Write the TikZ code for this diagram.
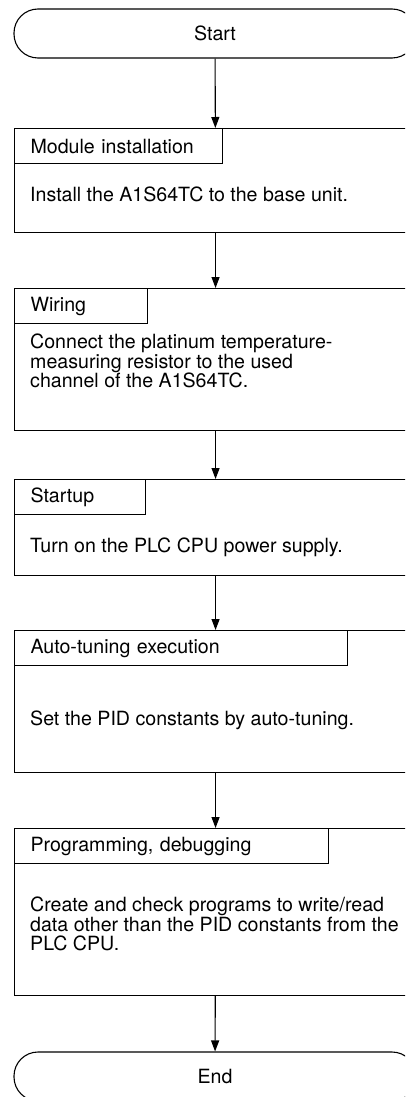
\documentclass[tikz,border=0pt]{standalone}
\usepackage{fontspec}
\setmainfont{TeX Gyre Heros}
\usetikzlibrary{arrows.meta}

\tikzset{
  term/.style={draw, line width=1.1pt, rounded corners=24pt,
    minimum width=402pt, minimum height=49pt, inner sep=0pt},
  stepframe/.style={draw, line width=1.1pt, anchor=north west,
    minimum width=402pt, minimum height=#1, inner sep=0pt},
  steptab/.style={draw, line width=1.1pt, anchor=north west,
    minimum height=35pt, text width=#1, inner xsep=16pt, inner ysep=0pt, align=left},
  steptext/.style={anchor=west, align=left, inner sep=0pt},
  flow/.style={line width=1.1pt, -{Triangle[length=11pt,width=8pt]}}
}

\begin{document}
\begin{tikzpicture}[x=1pt, y=-1pt, font=\fontsize{19.6}{19.8}\selectfont]
  \useasboundingbox (0,0) rectangle (405,1097);
  \clip (0,0) rectangle (405,1097);
  % --- Start / End ---
  \node[term] (start) at (215,33.5) {Start};
  \node[term] (end) at (215,1076.5) {End};
  % --- Step frames ---
  \node[stepframe=104pt] (frame1) at (14,128) {};
  \node[stepframe=142pt] (frame2) at (14,288) {};
  \node[stepframe=96pt]  (frame3) at (14,479) {};
  \node[stepframe=142pt] (frame4) at (14,630) {};
  \node[stepframe=167pt] (frame5) at (14,828) {};
  % --- Step titles ---
  \node[steptab=176pt] (tab1) at (frame1.north west) {Module installation};
  \node[steptab=101pt] (tab2) at (frame2.north west) {Wiring};
  \node[steptab=99pt]  (tab3) at (frame3.north west) {Startup};
  \node[steptab=301pt] (tab4) at (frame4.north west) {Auto-tuning execution};
  \node[steptab=282pt] (tab5) at (frame5.north west) {Programming, debugging};
  % --- Step descriptions ---
  \node[steptext] (text1) at (30,194) {Install the A1S64TC to the base unit.};
  \node[steptext] (text2) at (30,361) {Connect the platinum temperature-\\
    measuring resistor to the used\\channel of the A1S64TC.};
  \node[steptext] (text3) at (30,547) {Turn on the PLC CPU power supply.};
  \node[steptext] (text4) at (30,720) {Set the PID constants by auto-tuning.};
  \node[steptext] (text5) at (30,924) {Create and check programs to write/read\\
    data other than the PID constants from the\\PLC CPU.};
  % --- Flow ---
  \draw[flow] (start) -- (frame1);
  \draw[flow] (frame1) -- (frame2);
  \draw[flow] (frame2) -- (frame3);
  \draw[flow] (frame3) -- (frame4);
  \draw[flow] (frame4) -- (frame5);
  \draw[flow] (frame5) -- (end);
\end{tikzpicture}
\end{document}
